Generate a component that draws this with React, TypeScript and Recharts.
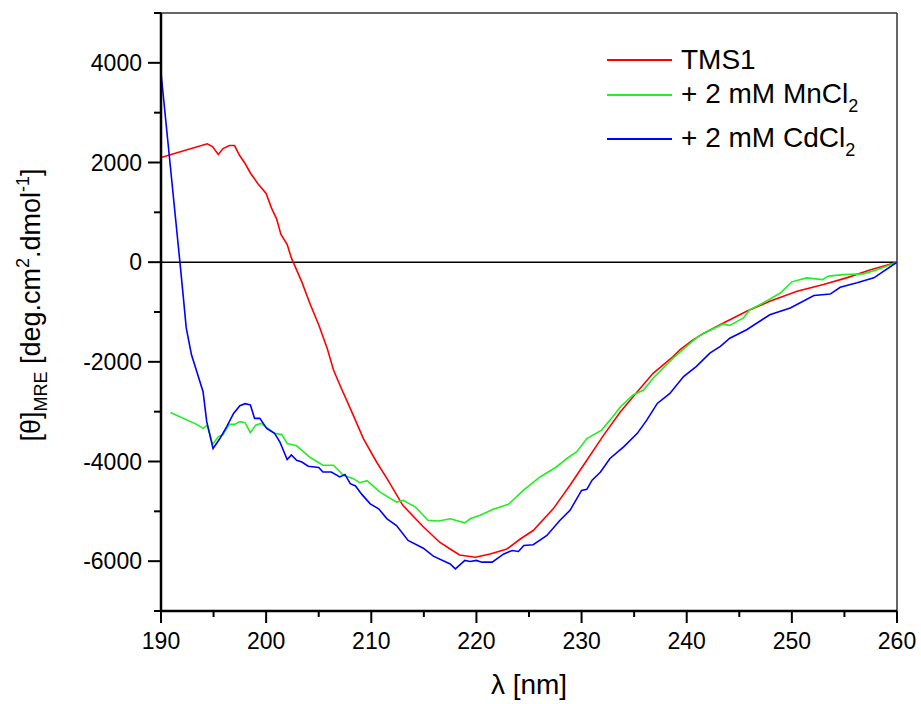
import { LineChart, Line, XAxis, YAxis, ReferenceLine, Legend } from "recharts";

const FONT = '"Liberation Sans", Arial, Helvetica, sans-serif';

// TMS1
const tmsNm = [190, 192, 194.4, 194.9, 195.45, 195.9, 196.5, 197, 197.45, 198, 198.5, 199.2, 200, 200.5, 201, 201.4, 202, 202.4, 203.4, 204.2, 205, 205.8, 206.4, 207, 208, 209.25, 210.5, 211.5, 213, 214.9, 216.5, 217.5, 218.4, 219.9, 221.3, 222.9, 224.2, 225.4, 227.3, 228.9, 230.5, 232.1, 233.7, 235.3, 236.8, 238.7, 239.4, 240.6, 241.6, 243.4, 245.7, 247.9, 250.5, 253, 255.2, 257.5, 260];
const tmsTheta = [2100, 2225, 2375, 2320, 2160, 2280, 2340, 2340, 2150, 1980, 1790, 1580, 1380, 1090, 865, 560, 355, 85, -400, -850, -1255, -1725, -2160, -2460, -2935, -3540, -4010, -4345, -4880, -5300, -5620, -5755, -5875, -5920, -5855, -5755, -5550, -5385, -4950, -4475, -3975, -3470, -3000, -2600, -2230, -1895, -1750, -1560, -1430, -1230, -985, -785, -585, -450, -315, -150, 0];

// + 2 mM MnCl2
const mnNm = [190.9, 193.4, 194, 194.4, 194.9, 195.45, 195.9, 196.5, 197, 197.5, 198, 198.5, 199, 199.5, 200.4, 200.8, 201.5, 202, 202.9, 204.2, 205.4, 206.4, 207.35, 208.3, 208.9, 209.6, 210.8, 212.4, 213.05, 214.2, 215.4, 216.4, 217.5, 218.9, 219.4, 220.35, 221.6, 222.25, 223.05, 224.45, 226.05, 227.6, 228.6, 229.55, 230.5, 231.9, 232.7, 233.7, 234.9, 235.9, 236.8, 238.7, 240.9, 241.6, 243.5, 244.1, 245.4, 246, 247, 248.9, 250, 251.4, 252.9, 253.5, 254.9, 256.8, 258.1, 260];
const mnTheta = [-3015, -3255, -3335, -3270, -3660, -3505, -3460, -3255, -3255, -3200, -3220, -3420, -3270, -3235, -3370, -3435, -3460, -3640, -3685, -3920, -4075, -4075, -4275, -4345, -4425, -4385, -4610, -4815, -4780, -4915, -5180, -5195, -5150, -5230, -5150, -5080, -4960, -4915, -4860, -4580, -4310, -4110, -3940, -3805, -3540, -3370, -3170, -2900, -2665, -2565, -2330, -1925, -1525, -1425, -1240, -1270, -1120, -955, -850, -620, -395, -315, -350, -280, -250, -235, -150, 0];

// + 2 mM CdCl2
const cdNm = [190, 190.9, 191.8, 192.1, 192.4, 192.9, 193.4, 194, 194.35, 194.95, 195.6, 196.25, 196.9, 197.5, 198, 198.5, 198.9, 199.4, 200.05, 200.8, 201.3, 202, 202.4, 202.9, 203.4, 204, 205, 205.4, 206.2, 207, 207.5, 208, 208.5, 209.1, 209.9, 210.7, 211.5, 212.4, 213.5, 214.95, 215.9, 217.5, 218, 218.9, 219.4, 220, 220.5, 221.5, 222.6, 223.4, 224, 224.5, 225.4, 226.7, 227.95, 228.9, 230, 230.5, 231, 231.8, 232.7, 234, 235.3, 236.2, 237.2, 238.4, 239.7, 240.9, 242.2, 243.2, 244.1, 245.7, 247.9, 249.85, 252.1, 253.65, 254.6, 256.2, 257.8, 260];
const cdTheta = [3800, 1900, 0, -650, -1320, -1860, -2195, -2600, -3200, -3740, -3540, -3300, -3035, -2880, -2840, -2865, -3135, -3135, -3335, -3435, -3605, -3960, -3870, -3975, -4010, -4095, -4120, -4210, -4210, -4310, -4260, -4445, -4490, -4660, -4850, -4950, -5150, -5285, -5585, -5740, -5900, -6055, -6155, -5985, -6005, -5985, -6020, -6020, -5855, -5785, -5805, -5685, -5670, -5485, -5180, -4980, -4580, -4560, -4375, -4210, -3940, -3705, -3435, -3170, -2835, -2635, -2295, -2095, -1825, -1690, -1525, -1355, -1055, -920, -670, -640, -505, -415, -315, 0];

const xTicks = [190, 195, 200, 205, 210, 215, 220, 225, 230, 235, 240, 245, 250, 255, 260];
const yTicks = [-7000, -6000, -5000, -4000, -3000, -2000, -1000, 0, 1000, 2000, 3000, 4000, 5000];
const yLabelled = [-6000, -4000, -2000, 0, 2000, 4000];

const toRows = (xs: number[], ys: number[]) => xs.map((x, i) => ({ x, y: ys[i] }));

const series = [
  { key: "tms", name: "TMS1", color: "#ff0000", data: toRows(tmsNm, tmsTheta) },
  { key: "mn", name: "+ 2 mM MnCl2", color: "#22ee22", data: toRows(mnNm, mnTheta) },
  { key: "cd", name: "+ 2 mM CdCl2", color: "#0000ff", data: toRows(cdNm, cdTheta) },
];

const sub2 = <span style={{ fontSize: 18, position: "relative", top: 9 }}>2</span>;
const legendText: Record<string, any> = {
  TMS1: "TMS1",
  "+ 2 mM MnCl2": <>+ 2 mM MnCl{sub2}</>,
  "+ 2 mM CdCl2": <>+ 2 mM CdCl{sub2}</>,
};
const legendTops = [46, 81, 125];

function XTick({ x, y, payload }: any) {
  const major = payload.value % 10 === 0;
  return (
    <g>
      <line x1={x} x2={x} y1={y} y2={y + (major ? 12 : 6)} stroke="#000" strokeWidth={2} />
      {major && (
        <text x={x} y={y + 38} textAnchor="middle" fontSize={23} fontFamily={FONT} fill="#000">
          {payload.value}
        </text>
      )}
    </g>
  );
}

function YTick({ x, y, payload }: any) {
  const major = yLabelled.includes(payload.value);
  return (
    <g>
      <line x1={x} x2={x - (major ? 13 : 7)} y1={y} y2={y} stroke="#000" strokeWidth={2} />
      {major && (
        <text x={x - 19} y={y + 8} textAnchor="end" fontSize={23} fontFamily={FONT} fill="#000">
          {payload.value}
        </text>
      )}
    </g>
  );
}

function XTitle({ viewBox }: any) {
  const cx = viewBox.x + viewBox.width / 2;
  return (
    <text x={cx} y={viewBox.y + 83} textAnchor="middle" fontSize={28} fontFamily={FONT} fill="#000">
      λ [nm]
    </text>
  );
}

function YTitle({ viewBox }: any) {
  const cy = viewBox.y + viewBox.height / 2 - 7;
  const x = 40;
  return (
    <text
      x={x}
      y={cy}
      transform={`rotate(-90 ${x} ${cy})`}
      textAnchor="middle"
      fontSize={27}
      fontFamily={FONT}
      fill="#000"
    >
      [θ]
      <tspan fontSize={18} dy={7}>MRE</tspan>
      <tspan dy={-7}> [deg.cm</tspan>
      <tspan fontSize={18} dy={-11}>2</tspan>
      <tspan dy={11}>.dmol</tspan>
      <tspan fontSize={18} dy={-11}>-1</tspan>
      <tspan dy={11}>]</tspan>
    </text>
  );
}

function LegendBox({ payload }: any) {
  const items = series
    .map((s) => (payload || []).find((p: any) => p.value === s.name))
    .filter(Boolean);
  return (
    <div style={{ position: "relative", width: 921, height: 704 }}>
      {items.map((p: any, i: number) => (
        <div
          key={p.value}
          style={{
            position: "absolute",
            left: 607,
            top: legendTops[i],
            height: 28,
            display: "flex",
            alignItems: "center",
            fontFamily: FONT,
            fontSize: 28,
            lineHeight: "28px",
            color: "#000",
            whiteSpace: "nowrap",
          }}
        >
          <div style={{ width: 65, height: 2, background: p.color, marginRight: 9 }} />
          <span>{legendText[p.value]}</span>
        </div>
      ))}
    </div>
  );
}

export default function App() {
  return (
    <div style={{ position: "absolute", left: 0, top: 0, background: "#fff" }}>
      <LineChart width={921} height={704} margin={{ top: 13, right: 24, left: 0, bottom: 0 }}>
        <XAxis
          type="number"
          dataKey="x"
          domain={[190, 260]}
          ticks={xTicks}
          interval={0}
          tickSize={0}
          tickMargin={0}
          tickLine={false}
          tick={<XTick />}
          axisLine={{ stroke: "#000", strokeWidth: 2.5 }}
          height={93}
          allowDataOverflow
          label={<XTitle />}
        />
        <YAxis
          type="number"
          domain={[-7000, 5000]}
          ticks={yTicks}
          interval={0}
          tickSize={0}
          tickMargin={0}
          tickLine={false}
          tick={<YTick />}
          axisLine={{ stroke: "#000", strokeWidth: 2.5 }}
          width={161}
          allowDataOverflow
          label={<YTitle />}
        />
        <ReferenceLine y={5000} stroke="#333" strokeWidth={1.5} />
        <ReferenceLine x={260} stroke="#333" strokeWidth={1.5} />
        <ReferenceLine y={0} stroke="#000" strokeWidth={1.5} />
        {series.map((s) => (
          <Line
            key={s.key}
            data={s.data}
            dataKey="y"
            name={s.name}
            type="linear"
            stroke={s.color}
            strokeWidth={1.6}
            dot={false}
            activeDot={false}
            isAnimationActive={false}
          />
        ))}
        <Legend
          layout="horizontal"
          verticalAlign="middle"
          align="center"
          wrapperStyle={{ top: 0, left: 0, width: 921, height: 704, pointerEvents: "none" }}
          content={<LegendBox />}
        />
      </LineChart>
    </div>
  );
}
